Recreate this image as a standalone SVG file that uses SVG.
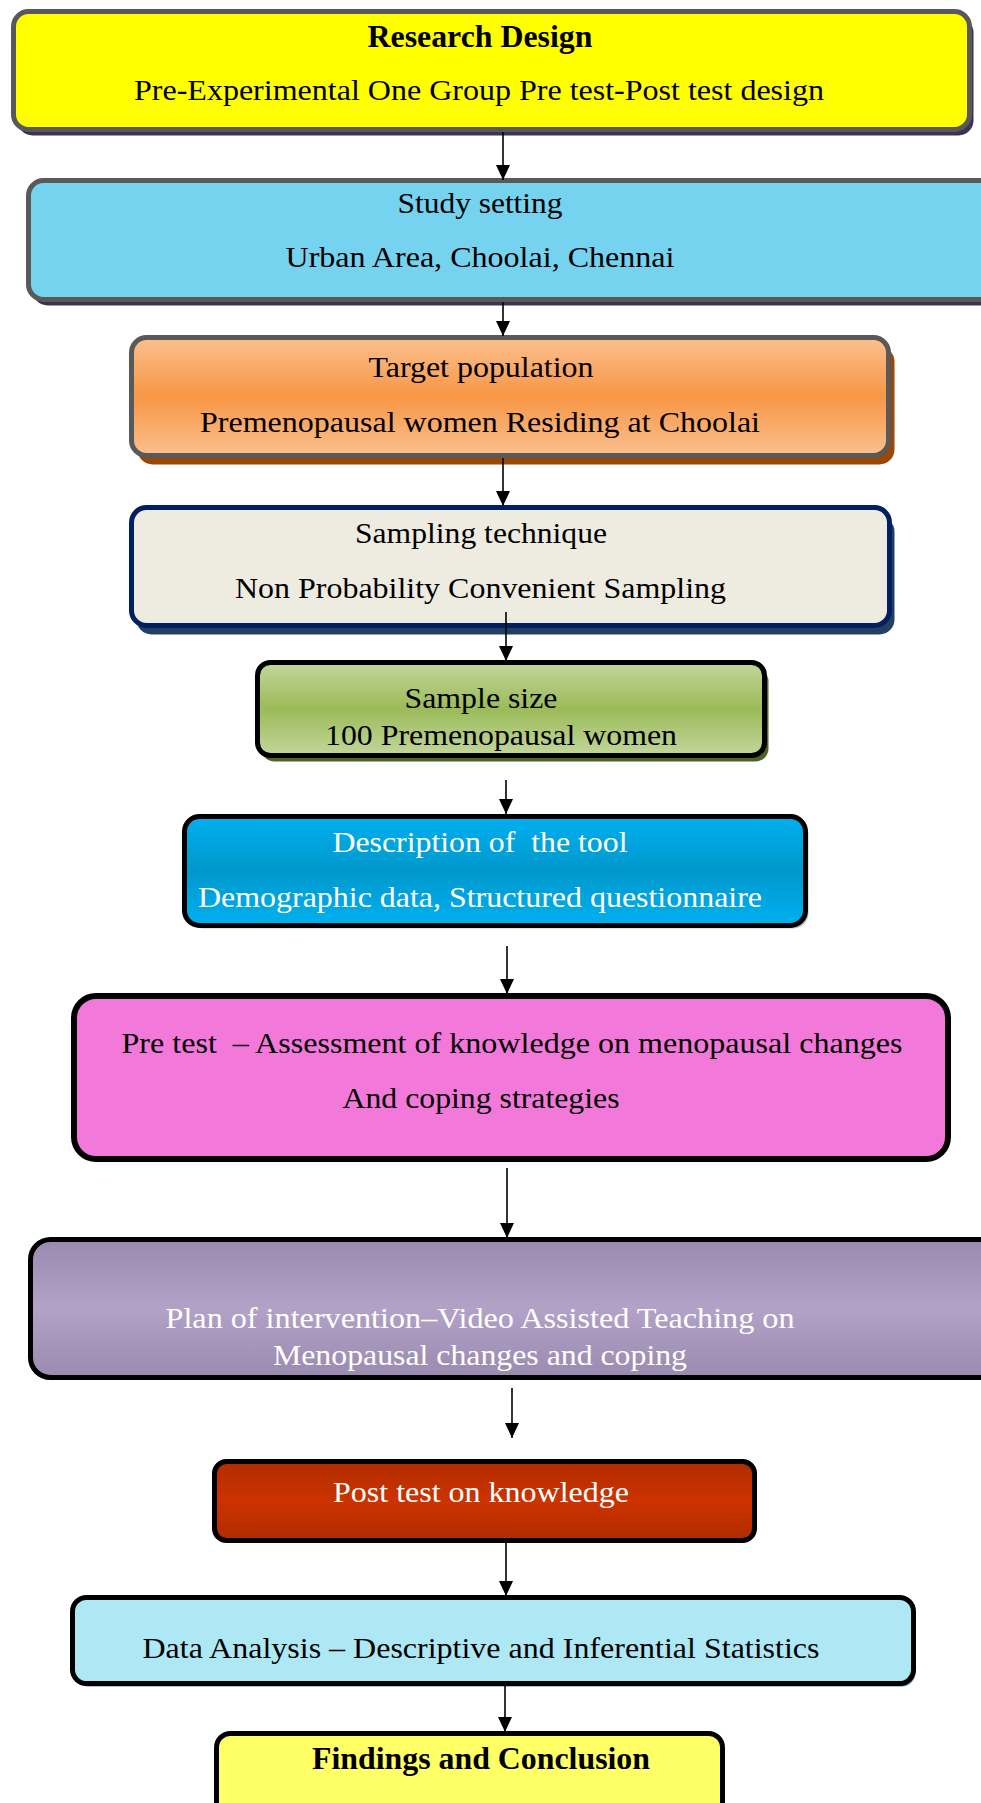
<svg xmlns="http://www.w3.org/2000/svg" width="981" height="1803" viewBox="0 0 981 1803">
<style>
.t{font-family:"Liberation Serif","Times New Roman",serif;font-size:30px;fill:#000;text-anchor:middle}
.b{font-weight:bold;font-size:31px}
.w{fill:#fff}
.conn line{stroke:#000;stroke-width:1.6;fill:none}
</style>
<defs>
<marker id="ah" markerUnits="userSpaceOnUse" markerWidth="16" markerHeight="16" refX="15" refY="7" orient="auto">
<path d="M0,0 L15,7 L0,14 z" fill="#000"/>
</marker>
<linearGradient id="gOrange" x1="0" y1="0" x2="0" y2="1">
<stop offset="0" stop-color="#fbc08e"/><stop offset="0.5" stop-color="#f79646"/><stop offset="1" stop-color="#fbc08e"/>
</linearGradient>
<linearGradient id="gGreen" x1="0" y1="0" x2="0" y2="1">
<stop offset="0" stop-color="#c3d69b"/><stop offset="0.5" stop-color="#9bbb59"/><stop offset="1" stop-color="#c3d69b"/>
</linearGradient>
<linearGradient id="gBlue" x1="0" y1="0" x2="0" y2="1">
<stop offset="0" stop-color="#00b0f0"/><stop offset="0.5" stop-color="#0098cc"/><stop offset="1" stop-color="#00b0f0"/>
</linearGradient>
<linearGradient id="gPurple" x1="0" y1="0" x2="0" y2="1">
<stop offset="0" stop-color="#9a8aaf"/><stop offset="0.5" stop-color="#b3a2c7"/><stop offset="1" stop-color="#9a8aaf"/>
</linearGradient>
<linearGradient id="gRed" x1="0" y1="0" x2="0" y2="1">
<stop offset="0" stop-color="#b02c00"/><stop offset="0.5" stop-color="#cc3300"/><stop offset="1" stop-color="#b02c00"/>
</linearGradient>
</defs>
<rect width="981" height="1803" fill="#fff"/>

<g id="node-research-design">
<rect x="17.5" y="17.5" width="956" height="118" rx="15" fill="#3f3151"/>
<rect x="13.5" y="11.5" width="956" height="118" rx="15" fill="#ffff00" stroke="#595959" stroke-width="5"/>
<text class="t b" x="480" y="47" textLength="225" lengthAdjust="spacingAndGlyphs">Research Design</text>
<text class="t" x="479" y="100" textLength="690" lengthAdjust="spacingAndGlyphs">Pre-Experimental One Group Pre test-Post test design</text>
</g>

<g id="node-study-setting">
<rect x="32.5" y="186.5" width="980" height="119" rx="15" fill="#3f3151"/>
<rect x="28.5" y="180.5" width="980" height="119" rx="15" fill="#75d3f0" stroke="#595959" stroke-width="5"/>
<text class="t" x="480" y="213" textLength="165" lengthAdjust="spacingAndGlyphs">Study setting</text>
<text class="t" x="480" y="267" textLength="389" lengthAdjust="spacingAndGlyphs">Urban Area, Choolai, Chennai</text>
</g>

<g id="node-target-population">
<rect x="137.5" y="346.5" width="757" height="118" rx="15" fill="#984807"/>
<rect x="131.5" y="337.5" width="757" height="118" rx="15" fill="url(#gOrange)" stroke="#595959" stroke-width="5"/>
<text class="t" x="481" y="377" textLength="225" lengthAdjust="spacingAndGlyphs">Target population</text>
<text class="t" x="480" y="432" textLength="560" lengthAdjust="spacingAndGlyphs">Premenopausal women Residing at Choolai</text>
</g>

<g id="node-sampling-technique">
<rect x="136.5" y="516.5" width="758" height="118" rx="15" fill="#243f60"/>
<rect x="131.5" y="507.5" width="758" height="118" rx="15" fill="#eeece1" stroke="#002060" stroke-width="5"/>
<text class="t" x="481" y="543" textLength="252" lengthAdjust="spacingAndGlyphs">Sampling technique</text>
<text class="t" x="480.5" y="598" textLength="491" lengthAdjust="spacingAndGlyphs">Non Probability Convenient Sampling</text>
</g>

<g id="node-sample-size">
<rect x="261.5" y="668.5" width="507" height="93" rx="13" fill="#4f6228"/>
<rect x="257.5" y="662.5" width="507" height="93" rx="13" fill="url(#gGreen)" stroke="#000" stroke-width="5"/>
<text class="t" x="481" y="708" textLength="153" lengthAdjust="spacingAndGlyphs">Sample size</text>
<text class="t" x="501" y="745" textLength="352" lengthAdjust="spacingAndGlyphs">100 Premenopausal women</text>
</g>

<g id="node-description-tool">
<rect x="187.5" y="819.5" width="621" height="109" rx="15" fill="#bfbfbf"/>
<rect x="184.5" y="816.5" width="621" height="109" rx="15" fill="url(#gBlue)" stroke="#000" stroke-width="5"/>
<text class="t w" x="480" y="852" textLength="295" lengthAdjust="spacingAndGlyphs" xml:space="preserve">Description of  the tool</text>
<text class="t w" x="480" y="907" textLength="564" lengthAdjust="spacingAndGlyphs">Demographic data, Structured questionnaire</text>
</g>

<g id="node-pre-test">
<rect x="74" y="996" width="874" height="163" rx="22" fill="#f279d9" stroke="#000" stroke-width="6"/>
<text class="t" x="512" y="1053" textLength="781" lengthAdjust="spacingAndGlyphs" xml:space="preserve">Pre test  – Assessment of knowledge on menopausal changes</text>
<text class="t" x="481" y="1108" textLength="277" lengthAdjust="spacingAndGlyphs">And coping strategies</text>
</g>

<g id="node-intervention">
<rect x="30.5" y="1239.5" width="980" height="138" rx="20" fill="url(#gPurple)" stroke="#000" stroke-width="5"/>
<text class="t w" x="480" y="1328" textLength="629" lengthAdjust="spacingAndGlyphs">Plan of intervention–Video Assisted Teaching on</text>
<text class="t w" x="480" y="1365" textLength="414" lengthAdjust="spacingAndGlyphs">Menopausal changes and coping</text>
</g>

<g id="node-post-test">
<rect x="214.5" y="1461.5" width="540" height="79" rx="12" fill="url(#gRed)" stroke="#000" stroke-width="5"/>
<text class="t w" x="481" y="1502" textLength="296" lengthAdjust="spacingAndGlyphs">Post test on knowledge</text>
</g>

<g id="node-data-analysis">
<rect x="74.5" y="1600.5" width="841" height="86" rx="14" fill="#4f8a9a"/>
<rect x="72.5" y="1597.5" width="841" height="86" rx="14" fill="#aee8f5" stroke="#000" stroke-width="5"/>
<text class="t" x="481" y="1658" textLength="677" lengthAdjust="spacingAndGlyphs">Data Analysis – Descriptive and Inferential Statistics</text>
</g>

<g id="node-findings">
<rect x="216.5" y="1733.5" width="506" height="110" rx="14" fill="#ffff66" stroke="#000" stroke-width="5"/>
<text class="t b" x="481" y="1769" textLength="338" lengthAdjust="spacingAndGlyphs">Findings and Conclusion</text>
</g>

<g id="connectors" class="conn">
<line x1="503" y1="132" x2="503" y2="180" marker-end="url(#ah)"/>
<line x1="503" y1="302" x2="503" y2="336" marker-end="url(#ah)"/>
<line x1="503" y1="458" x2="503" y2="506" marker-end="url(#ah)"/>
<line x1="506" y1="612" x2="506" y2="661" marker-end="url(#ah)"/>
<line x1="506" y1="780" x2="506" y2="814" marker-end="url(#ah)"/>
<line x1="507" y1="946" x2="507" y2="994" marker-end="url(#ah)"/>
<line x1="507" y1="1168" x2="507" y2="1238" marker-end="url(#ah)"/>
<line x1="512" y1="1388" x2="512" y2="1438" marker-end="url(#ah)"/>
<line x1="506" y1="1543" x2="506" y2="1596" marker-end="url(#ah)"/>
<line x1="505" y1="1686" x2="505" y2="1732" marker-end="url(#ah)"/>
</g>
</svg>
